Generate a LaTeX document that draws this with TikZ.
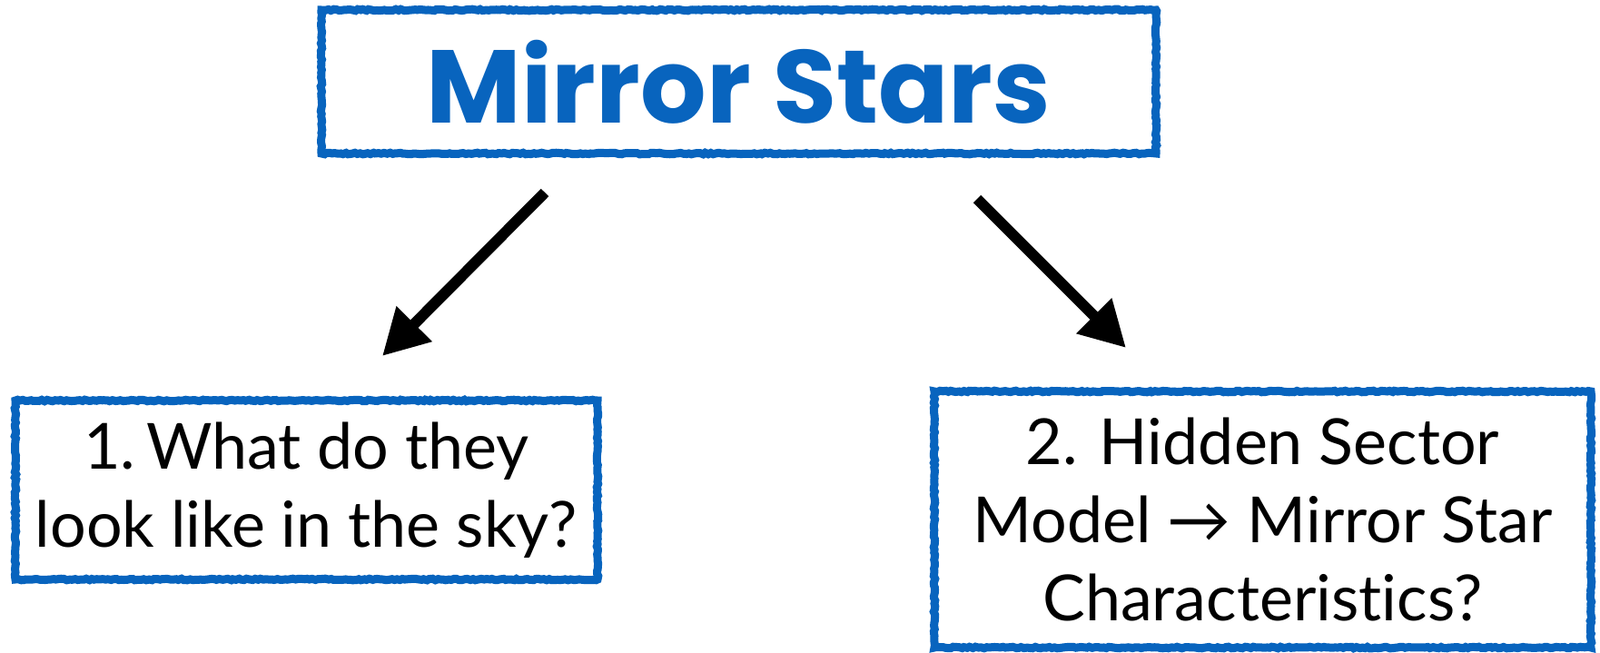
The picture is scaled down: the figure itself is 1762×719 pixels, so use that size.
\documentclass[tikz,border=0pt]{standalone}
\usepackage{fontspec}
\setmainfont{Lato}[Ligatures={NoCommon}]
\newfontfamily\titlefont{Poppins}
\usetikzlibrary{arrows.meta,decorations.pathmorphing}
\definecolor{boxblue}{RGB}{8,100,190}
\tikzset{
  sketchbox/.style={draw=boxblue, line width=9pt, inner sep=0pt,
    decorate, decoration={random steps, segment length=3pt, amplitude=0.8pt},
    align=center},
  bigarrow/.style={line width=12pt, -{Triangle[length=50pt,width=52pt]}},
  bodytext/.style={font=\fontsize{70}{86}\selectfont}
}
\begin{document}
\begin{tikzpicture}[x=1pt,y=-1pt]
\useasboundingbox (0,0) rectangle (1762,719);
\fill[white] (0,0) rectangle (1762,719);
\node[sketchbox, minimum width=919pt, minimum height=158pt,
  font=\titlefont\bfseries\fontsize{114}{114}\selectfont, text=boxblue]
  (top) at (813.5,90) {Mirror Stars};
\node[sketchbox, bodytext, minimum width=641pt, minimum height=197pt]
  (left) at (337.5,539.5) {1.\,What do they\\look like in the sky?};
\node[sketchbox, bodytext, minimum width=723pt, minimum height=282pt]
  (right) at (1390.5,572) {2. Hidden Sector\\Model \textrightarrow\ Mirror Star\\Characteristics?};
\coordinate (la) at (600,212);
\coordinate (lb) at (421,392);
\coordinate (ra) at (1076,219);
\coordinate (rb) at (1240,383);
\draw[bigarrow] (la) -- (lb);
\draw[bigarrow] (ra) -- (rb);
\end{tikzpicture}
\end{document}
